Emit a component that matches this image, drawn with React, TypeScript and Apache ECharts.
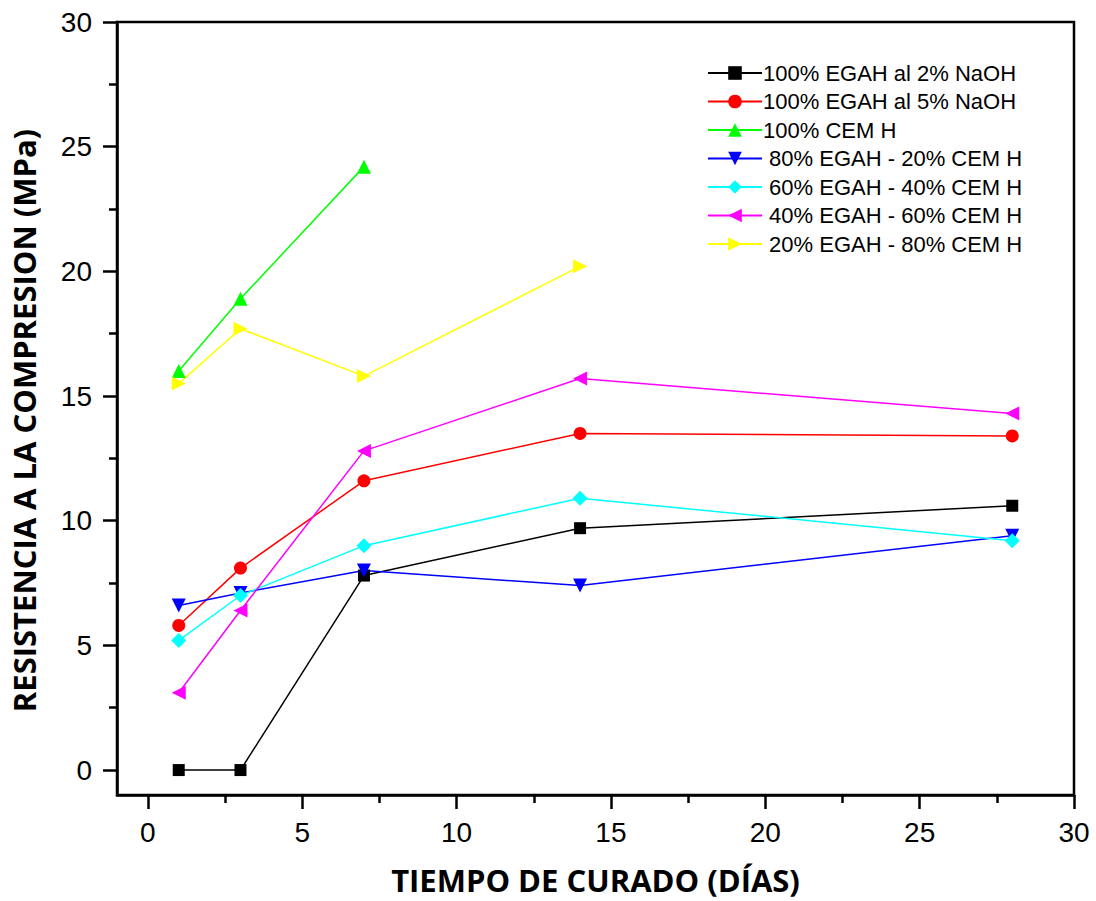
import React, { useEffect, useRef } from "react";
import * as echarts from "echarts";

const days = [1, 3, 7, 14, 28];
const egah2 = [0, 0, 7.8, 9.7, 10.6];
const egah5 = [5.8, 8.1, 11.6, 13.5, 13.4];
const cem100 = [16.0, 18.9, 24.2];
const e80c20 = [6.6, 7.1, 8.0, 7.4, 9.4];
const e60c40 = [5.2, 7.0, 9.0, 10.9, 9.2];
const e40c60 = [3.1, 6.4, 12.8, 15.7, 14.3];
const e20c80 = [15.5, 17.7, 15.8, 20.2];

const seriesNames = [
  "100% EGAH al 2% NaOH",
  "100% EGAH al 5% NaOH",
  "100% CEM H",
  " 80% EGAH - 20% CEM H",
  " 60% EGAH - 40% CEM H",
  " 40% EGAH - 60% CEM H",
  " 20% EGAH - 80% CEM H",
];
const seriesValues = [egah2, egah5, cem100, e80c20, e60c40, e40c60, e20c80];
const seriesColors = ["#000000", "#ff0000", "#00ff00", "#0000ff", "#00ffff", "#ff00ff", "#ffff00"];
const seriesSymbols = [
  "rect",
  "circle",
  "triangle",
  "path://M0,0 L10,0 L5,10 Z",
  "diamond",
  "path://M10,0 L10,10 L0,5 Z",
  "path://M0,0 L10,5 L0,10 Z",
];
const seriesSymbolSizes = [12, 13, 14, 14, 15, 14, 14];

const axisMin = -1;
const axisMax = 30;
const tickStep = 5;

export default function App() {
  const ref = useRef<HTMLDivElement>(null);
  useEffect(() => {
    if (!ref.current) return;
    const chart = echarts.init(ref.current, undefined, { renderer: "svg" });
    const font = "'Liberation Sans', Arial, sans-serif";
    const titleFont = "'Open Sans', sans-serif";

    const W = 1096;
    const H = 901;
    const gl = 117, gr = 22, gt = 22, gb = 106;
    const pxPerX = (W - gl - gr) / (axisMax - axisMin);
    const pxPerY = (H - gt - gb) / (axisMax - axisMin);
    const offX = (0 - axisMin) * pxPerX;
    const offY = (0 - axisMin) * pxPerY;

    const mainAxis = () => ({
      type: "value",
      min: axisMin,
      max: axisMax,
      splitLine: { show: false },
      axisLine: { show: true, onZero: false, lineStyle: { color: "#000", width: 2.5 } },
      axisTick: { show: false },
      axisLabel: { show: false },
    });
    const tickAxis = (isX: boolean, offset: number) => ({
      type: "value",
      gridIndex: 1,
      min: 0,
      max: axisMax,
      interval: tickStep,
      offset,
      splitLine: { show: false },
      axisLine: { show: false, onZero: false },
      axisTick: { show: true, inside: false, length: 14, lineStyle: { color: "#000", width: 2.5 } },
      minorTick: { show: true, splitNumber: 2, length: 8, lineStyle: { color: "#000", width: 2.5 } },
      minorSplitLine: { show: false },
      axisLabel: {
        show: true,
        color: "#000",
        fontSize: 28,
        fontFamily: font,
        margin: isX ? 23 : 25,
      },
    });
    const series = seriesNames.map((name, i) => ({
      name,
      type: "line",
      xAxisIndex: 0,
      yAxisIndex: 0,
      data: seriesValues[i].map((v, j) => [days[j], v]),
      symbol: seriesSymbols[i],
      symbolSize: seriesSymbolSizes[i],
      showAllSymbol: true,
      itemStyle: { color: seriesColors[i] },
      lineStyle: { color: seriesColors[i], width: 1.5 },
    }));
    chart.setOption({
      animation: false,
      backgroundColor: "#fff",
      grid: [
        {
          left: gl,
          top: gt,
          right: gr,
          bottom: gb,
          show: true,
          borderColor: "#000",
          borderWidth: 2.5,
          containLabel: false,
        },
        {
          left: gl + offX,
          top: gt,
          right: gr,
          bottom: gb + offY,
          show: false,
          containLabel: false,
        },
      ],
      legend: {
        show: true,
        orient: "vertical",
        left: 707,
        top: 62,
        padding: 0,
        itemWidth: 54,
        itemHeight: 17,
        itemGap: 6.5,
        textStyle: { color: "#000", fontSize: 22, fontFamily: font, padding: [0, 0, 0, -4] },
        data: seriesNames,
      },
      xAxis: [
        {
          ...mainAxis(),
          gridIndex: 0,
          position: "bottom",
          name: "TIEMPO DE CURADO (DÍAS)",
          nameLocation: "middle",
          nameGap: 69,
          nameTextStyle: { color: "#000", fontSize: 31, fontWeight: "bold", fontFamily: titleFont },
        },
        { ...tickAxis(true, offY), position: "bottom" },
      ],
      yAxis: [
        {
          ...mainAxis(),
          gridIndex: 0,
          position: "left",
          name: "RESISTENCIA A LA COMPRESION (MPa)",
          nameLocation: "middle",
          nameGap: 78,
          nameRotate: 90,
          nameTextStyle: { color: "#000", fontSize: 31, fontWeight: "bold", fontFamily: titleFont, padding: [0, 0, 0, -24] },
        },
        { ...tickAxis(false, offX), position: "left" },
      ],
      series,
    });
    return () => chart.dispose();
  }, []);
  return (
    <div
      ref={ref}
      style={{ position: "fixed", left: 0, top: 0, width: 1096, height: 901, background: "#fff" }}
    />
  );
}
